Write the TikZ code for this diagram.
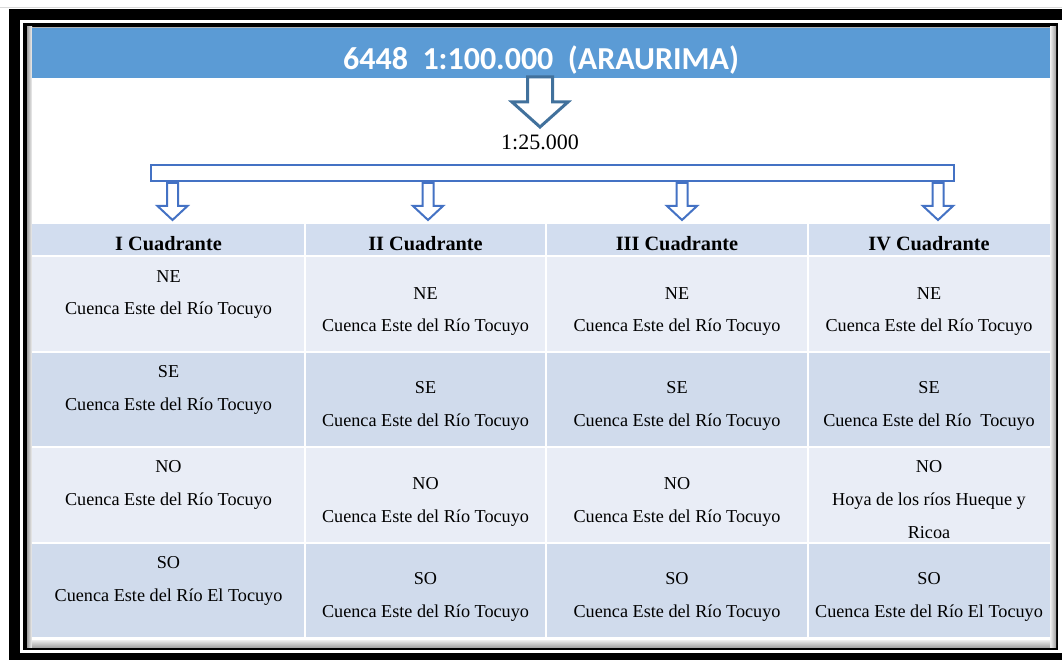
\documentclass[tikz,border=0pt]{standalone}
\usepackage{fontspec}
\setmainfont{Liberation Serif}
\newfontfamily\titlefont{Carlito}
\definecolor{titleblue}{HTML}{5B9BD5}
\definecolor{arrowdark}{HTML}{41719C}
\definecolor{accent}{HTML}{4472C4}
\definecolor{hdr}{HTML}{D2DDEF}
\definecolor{rowlight}{HTML}{E9EDF6}
\definecolor{rowdark}{HTML}{D0DBEC}
\tikzset{
  cell/.style={font=\fontsize{18.2}{22}\selectfont, anchor=base, inner sep=0pt},
  head/.style={font=\bfseries\fontsize{20.3}{24}\selectfont, anchor=base, inner sep=0pt},
  smallarrow/.pic={\draw[accent, line width=2pt, fill=white, line join=miter]
    (-5.5,0) -- (5.5,0) -- (5.5,23) -- (15,23) -- (0,37) -- (-15,23) -- (-5.5,23) -- cycle;},
  bigarrow/.pic={\draw[arrowdark, line width=3pt, fill=white, line join=miter]
    (-12.5,0) -- (12.5,0) -- (12.5,25) -- (28,25) -- (0,50) -- (-28,25) -- (-12.5,25) -- cycle;},
  sep/.style={white, line width=1.5pt}
}
\begin{document}
\begin{tikzpicture}[x=1pt,y=-1pt]
\useasboundingbox (0,0) rectangle (1062,660);
% frame
\draw[gray!30, line width=1pt] (0,8) -- (1062,8);
\fill[black] (9,9) rectangle (1062,660);
\fill[white] (20,20) rectangle (1062,653);
\fill[black] (23,23) rectangle (1058,650);
\fill[gray!60] (27,27) rectangle (1056,647);
\shade[left color=gray!75, right color=gray!10] (27,27) rectangle (32,647);
\shade[left color=gray!10, right color=gray!75] (1050,27) rectangle (1056,647);
\shade[top color=gray!15, bottom color=gray!70] (32,640) rectangle (1050,647);
\fill[white] (32,28) rectangle (1050,640);
% title bar
\fill[titleblue] (32,28) rectangle (1050,78);
\node[font=\titlefont\bfseries\fontsize{32}{36}\selectfont, text=white, anchor=base, inner sep=0pt] (title) at (541,70) {6448\ \ 1:100.000\ \ (ARAURIMA)};
% big arrow and scale
\pic at (540,77) {bigarrow};
\node[font=\fontsize{22}{26}\selectfont, anchor=base, inner sep=0pt] (scale) at (540,150) {1:25.000};
% bracket
\node[draw=accent, line width=2.5pt, minimum width=803pt, minimum height=16pt, inner sep=0pt] (bracket) at (552.5,173) {};
\coordinate (a1) at (172.5,183);
\coordinate (a2) at (428,183);
\coordinate (a3) at (682,183);
\coordinate (a4) at (938,183);
\foreach \a in {a1,a2,a3,a4} \pic at (\a) {smallarrow};
% table
\fill[hdr] (32,224) rectangle (1050,256);
\fill[rowlight] (32,256) rectangle (1050,352);
\fill[rowdark] (32,352) rectangle (1050,447);
\fill[rowlight] (32,447) rectangle (1050,543);
\fill[rowdark] (32,543) rectangle (1050,637);
\foreach \yy in {256,352,447,543} \draw[sep] (32,\yy) -- (1050,\yy);
\foreach \xx in {305,546,808} \draw[sep] (\xx,224) -- (\xx,637);
% header
\node[head] (h1) at (168.5,251) {I Cuadrante};
\node[head] (h2) at (425.5,251) {II Cuadrante};
\node[head] (h3) at (677,251) {III Cuadrante};
\node[head] (h4) at (929,251) {IV Cuadrante};
% column 1
\node[cell] (c11a) at (168.5,282) {NE};
\node[cell] (c11b) at (168.5,314) {Cuenca Este del Río Tocuyo};
\node[cell] (c12a) at (168.5,377) {SE};
\node[cell] (c12b) at (168.5,410) {Cuenca Este del Río Tocuyo};
\node[cell] (c13a) at (168.5,472) {NO};
\node[cell] (c13b) at (168.5,505) {Cuenca Este del Río Tocuyo};
\node[cell] (c14a) at (168.5,568) {SO};
\node[cell] (c14b) at (168.5,601) {Cuenca Este del Río El Tocuyo};
% column 2
\node[cell] (c21a) at (425.5,299) {NE};
\node[cell] (c21b) at (425.5,331) {Cuenca Este del Río Tocuyo};
\node[cell] (c22a) at (425.5,393) {SE};
\node[cell] (c22b) at (425.5,426) {Cuenca Este del Río Tocuyo};
\node[cell] (c23a) at (425.5,489) {NO};
\node[cell] (c23b) at (425.5,522) {Cuenca Este del Río Tocuyo};
\node[cell] (c24a) at (425.5,584) {SO};
\node[cell] (c24b) at (425.5,617) {Cuenca Este del Río Tocuyo};
% column 3
\node[cell] (c31a) at (677,299) {NE};
\node[cell] (c31b) at (677,331) {Cuenca Este del Río Tocuyo};
\node[cell] (c32a) at (677,393) {SE};
\node[cell] (c32b) at (677,426) {Cuenca Este del Río Tocuyo};
\node[cell] (c33a) at (677,489) {NO};
\node[cell] (c33b) at (677,522) {Cuenca Este del Río Tocuyo};
\node[cell] (c34a) at (677,584) {SO};
\node[cell] (c34b) at (677,617) {Cuenca Este del Río Tocuyo};
% column 4
\node[cell] (c41a) at (929,299) {NE};
\node[cell] (c41b) at (929,331) {Cuenca Este del Río Tocuyo};
\node[cell] (c42a) at (929,393) {SE};
\node[cell] (c42b) at (929,426) {Cuenca Este del Río\ \ Tocuyo};
\node[cell] (c43a) at (929,472) {NO};
\node[cell] (c43b) at (929,505) {Hoya de los ríos Hueque y};
\node[cell] (c43c) at (929,538) {Ricoa};
\node[cell] (c44a) at (929,584) {SO};
\node[cell] (c44b) at (929,617) {Cuenca Este del Río El Tocuyo};
\end{tikzpicture}
\end{document}
